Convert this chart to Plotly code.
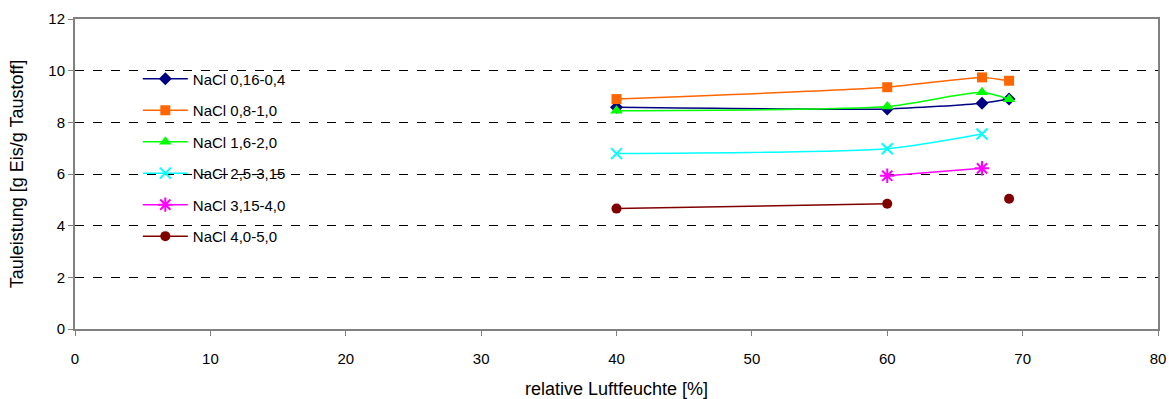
import plotly.graph_objects as go

# relative humidity levels [%]
feuchte = [40, 60, 67, 69]

# Tauleistung per salt loading [g Eis / g Taustoff]
nacl_016_04 = [8.58, 8.52, 8.74, 8.90]
nacl_08_10 = [8.90, 9.36, 9.74, 9.61]
nacl_16_20 = [8.45, 8.61, 9.16, 8.89]
nacl_25_315 = [6.79, 6.98, 7.55, None]
nacl_315_40 = [None, 5.93, 6.22, None]
nacl_40_50 = [4.66, 4.85, None, 5.04]

series = [
    ("NaCl 0,16-0,4", nacl_016_04, "#000080", dict(symbol="diamond", size=10)),
    ("NaCl 0,8-1,0", nacl_08_10, "#FF6600", dict(symbol="square", size=10)),
    ("NaCl 1,6-2,0", nacl_16_20, "#00FF00", dict(symbol="triangle-up", size=11)),
    ("NaCl 2,5-3,15", nacl_25_315, "#00FFFF", dict(symbol="x-thin-open", size=11, line=dict(width=2, color="#00FFFF"))),
    ("NaCl 3,15-4,0", nacl_315_40, "#FF00FF", dict(symbol="asterisk-open", size=12, line=dict(width=2, color="#FF00FF"))),
    ("NaCl 4,0-5,0", nacl_40_50, "#800000", dict(symbol="circle", size=10)),
]

fig = go.Figure()
for i, (name, vals, color, mk) in enumerate(series):
    fig.add_trace(go.Scatter(
        x=feuchte, y=vals, name=name, mode="lines+markers",
        line=dict(color=color, width=1.5, shape="spline", smoothing=0.6),
        marker=dict(color=color, **mk),
        connectgaps=False,
        legendgroup=f"g{i}",
    ))

base_font = dict(family="Liberation Sans, Arial, sans-serif", size=15, color="#000000")

fig.update_layout(
    width=1169, height=399,
    margin=dict(l=75, r=11, t=19, b=70),
    paper_bgcolor="white", plot_bgcolor="white",
    font=base_font,
    showlegend=True,
    legend=dict(
        x=0.058, y=0.86, xanchor="left", yanchor="top",
        bgcolor="rgba(0,0,0,0)", itemwidth=45,
        font=dict(family="Liberation Sans, Arial, sans-serif", size=15, color="#000000"),
        tracegroupgap=9, traceorder="grouped",
    ),
    xaxis=dict(
        range=[0, 80], tick0=0, dtick=10, showgrid=False,
        showline=True, linecolor="#808080", linewidth=2, mirror=True,
        ticks="outside", ticklen=5, tickcolor="#808080",
        ticklabelstandoff=10, automargin=False,
        title=dict(text="relative Luftfeuchte [%]", standoff=26),
        zeroline=False,
    ),
    yaxis=dict(
        range=[0, 12], tick0=0, dtick=2,
        showgrid=True, gridcolor="#000000", griddash="dash", gridwidth=1,
        showline=True, linecolor="#808080", linewidth=2, mirror=True,
        ticks="outside", ticklen=5, tickcolor="#808080",
        automargin=False,
        title=dict(text="Tauleistung [g Eis/g Taustoff]", standoff=20),
        zeroline=False,
    ),
)

fig.write_html("out.html")
